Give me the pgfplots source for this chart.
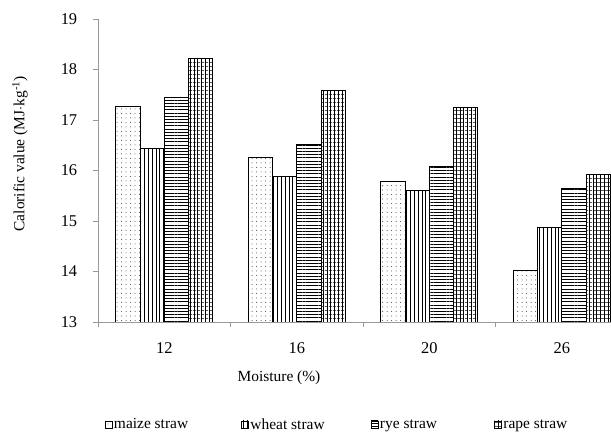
\documentclass[border=0pt]{standalone}
\usepackage{pgfplots}
\pgfplotsset{compat=1.18}
\usepackage{fontspec}
\setmainfont{Liberation Serif}
\usetikzlibrary{patterns.meta}
\begin{document}
\begin{tikzpicture}
\begin{axis}[
  at={(98bp,111bp)}, anchor=south west,
  scale only axis, width=530bp, height=303bp,
  ybar=0pt, bar width=24.3bp,
  xmin=-0.5, xmax=3.5, ymin=13, ymax=19,
  ytick={13,14,...,19},
  xtick={0,1,2,3}, xticklabels={12,16,20,26},
  minor xtick={-0.5,0.5,1.5,2.5,3.5},
  major x tick style={draw=none},
  minor tick length=5bp, major tick length=5bp,
  tick align=outside,
  tick style={gray!80, line width=0.6bp},
  axis x line*=bottom, axis y line*=left,
  axis line style={gray!80, line width=0.7bp, -},
  font=\fontsize{15.5}{18}\selectfont,
  /pgf/number format/assume math mode=true,
  ticklabel style={font=\fontsize{16.5}{19}\selectfont},
  xticklabel style={anchor=center, yshift=-21bp},
  yticklabel style={anchor=center, xshift=-24bp},
  xlabel={Moisture (\%)},
  xlabel style={at={(rel axis cs:0.3415,0)}, anchor=center, yshift=-56bp},
  ylabel={Calorific value (MJ$\cdot$kg\textsuperscript{-1})},
  ylabel style={at={(rel axis cs:-0.1472,0.555)}, anchor=center},
  legend columns=4,
  legend style={draw=none, at={(rel axis cs:0.0132,-0.338)}, anchor=west,
    inner sep=0pt, outer sep=0pt, font=\fontsize{15.5}{18}\selectfont,
    nodes={inner sep=1.5bp}},
  legend image code/.code={\draw[#1, line width=0.5bp] (0bp,-3.5bp) rectangle (7bp,3.5bp);},
  clip=true,
]
\addplot[draw=black, line width=0.8bp, pattern={Dots[distance=4.5bp, radius=0.5bp]}, pattern color=black!75]
  coordinates {(0,17.27) (1,16.25) (2,15.79) (3,14.03)};
\addplot[draw=black, line width=0.8bp, pattern={Lines[angle=90, distance=3.8bp, line width=0.6bp]}, pattern color=black]
  coordinates {(0,16.43) (1,15.89) (2,15.61) (3,14.87)};
\addplot[draw=black, line width=0.8bp, pattern={Lines[angle=0, distance=3.2bp, line width=0.6bp]}, pattern color=black]
  coordinates {(0,17.44) (1,16.52) (2,16.08) (3,15.64)};
\addplot[draw=black, line width=0.8bp, pattern={Lines[angle=0, distance=3.6bp, line width=0.6bp]}, pattern color=black,
  postaction={pattern={Lines[angle=90, distance=3.8bp, line width=0.6bp]}, pattern color=black}]
  coordinates {(0,18.21) (1,17.58) (2,17.25) (3,15.93)};
\legend{\makebox[126bp][l]{maize straw},\makebox[119bp][l]{wheat straw},\makebox[113bp][l]{rye straw},\makebox[100bp][l]{rape straw}}
\end{axis}
\pgfresetboundingbox
\useasboundingbox (0,0) rectangle (611bp,433bp);
\end{tikzpicture}
\end{document}
